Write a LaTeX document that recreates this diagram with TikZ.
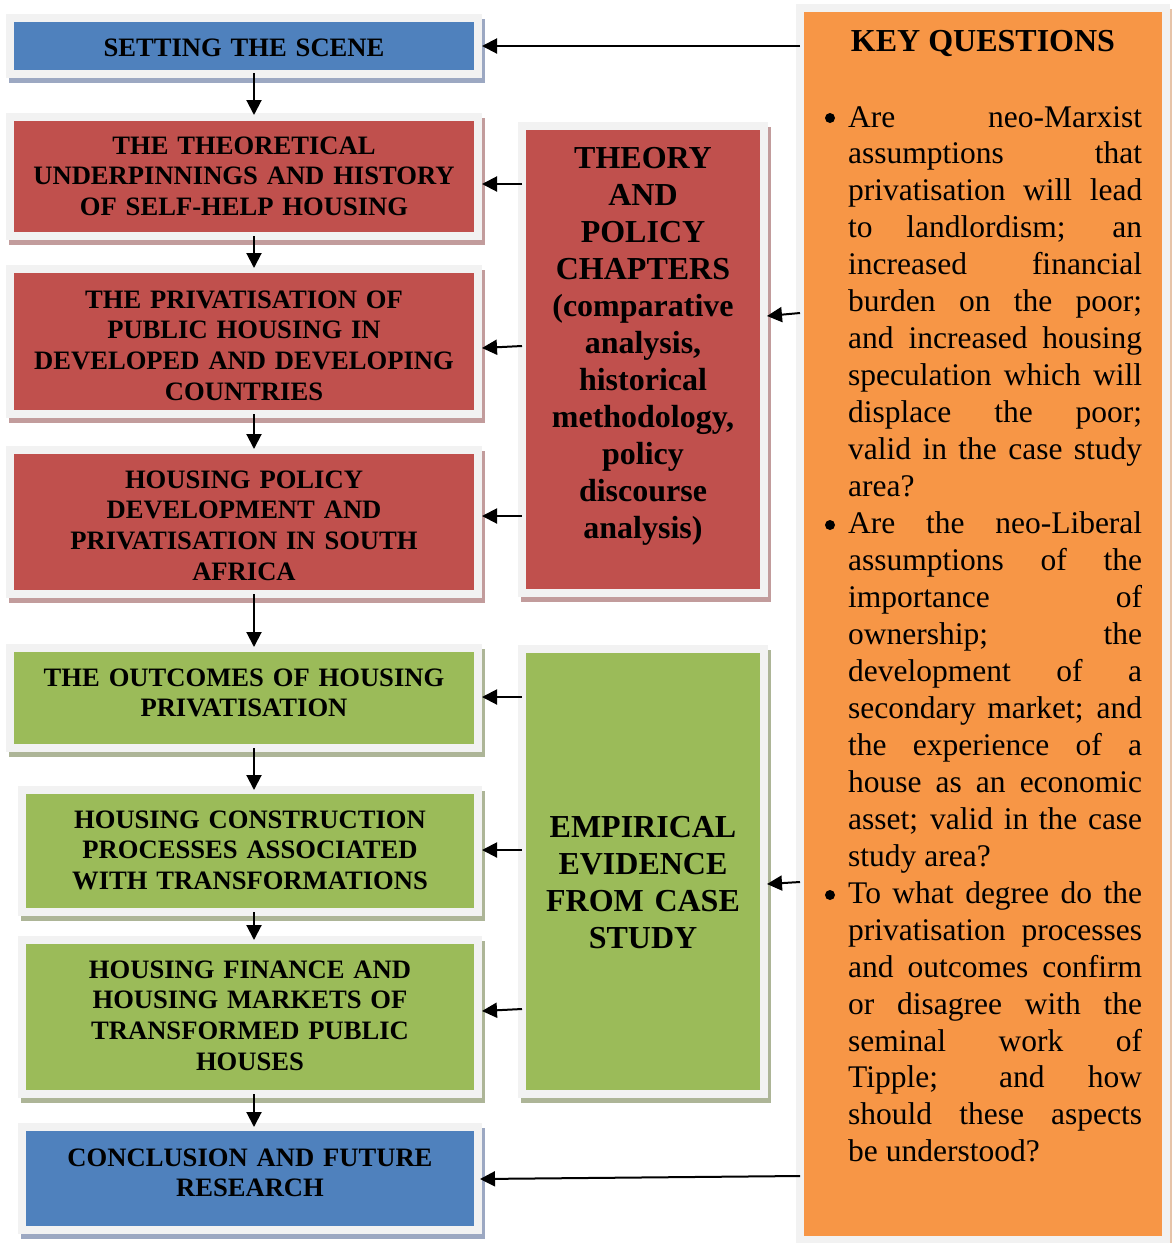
\documentclass[tikz,border=0pt]{standalone}
\usepackage{fontspec}
\setmainfont{Liberation Serif}
\usetikzlibrary{arrows.meta,calc,backgrounds}
\definecolor{cBlue}{HTML}{4F81BD}
\definecolor{cRed}{HTML}{C0504D}
\definecolor{cGreen}{HTML}{9BBB59}
\definecolor{cOrange}{HTML}{F79646}
\definecolor{cFrame}{HTML}{F2F2F2}
\definecolor{shB}{HTML}{9CA8C2}
\definecolor{shR}{HTML}{C29C9C}
\definecolor{shG}{HTML}{ADB597}
\definecolor{shO}{HTML}{E6C3A8}
\newcommand\boxfont{\fontsize{26.6}{30.7}\selectfont\bfseries}
\newcommand\midfont{\fontsize{32}{37}\selectfont\bfseries}
\newcommand\kqhead{\fontsize{32}{37}\selectfont\bfseries}
\newcommand\kqbody{\fontsize{31.5}{36.96}\selectfont}
\tolerance=10000
\hbadness=10000
\hyphenpenalty=10000
\exhyphenpenalty=10000
\begin{document}
\begin{tikzpicture}[x=1pt,y=-1pt,
  frame/.style={draw=cFrame, line width=8pt, outer sep=4pt, inner sep=0pt},
  lbl/.style={font=\boxfont, text width=456pt, align=center, inner sep=0pt, anchor=base},
  mid/.style={font=\midfont, text width=234pt, align=center, inner sep=0pt, anchor=base},
  bul/.style={circle, fill=black, inner sep=0pt, minimum size=10pt},
  arr/.style={line width=2pt, -{Triangle[length=15pt,width=15pt]}}]
\useasboundingbox (0,0) rectangle (1171,1243);

% boxes (frame = outer rectangle inset by 4)
\node[frame, fill=cBlue,  minimum width=468pt, minimum height=56pt]  (f1) at (244,46) {};
\node[frame, fill=cRed,   minimum width=468pt, minimum height=119pt] (f2) at (244,176.5) {};
\node[frame, fill=cRed,   minimum width=468pt, minimum height=145pt] (f3) at (244,341.5) {};
\node[frame, fill=cRed,   minimum width=468pt, minimum height=144pt] (f4) at (244,522) {};
\node[frame, fill=cGreen, minimum width=468pt, minimum height=100pt] (f5) at (244,698) {};
\node[frame, fill=cGreen, minimum width=456pt, minimum height=122pt] (f6) at (250,851) {};
\node[frame, fill=cGreen, minimum width=456pt, minimum height=154pt] (f7) at (250,1017) {};
\node[frame, fill=cBlue,  minimum width=456pt, minimum height=103pt] (f8) at (250,1178.5) {};
\node[frame, fill=cRed,   minimum width=242pt, minimum height=467pt] (ft) at (643,359.5) {};
\node[frame, fill=cGreen, minimum width=242pt, minimum height=445pt] (fe) at (643,871.5) {};
\node[frame, fill=cOrange,minimum width=366pt, minimum height=1232pt] (fk) at (983,624) {};

\begin{scope}[on background layer]
  \fill[white] (0,0) rectangle (1171,1243);
  \foreach \n/\c in {f1/shB,f2/shR,f3/shR,f4/shR,f5/shG,f6/shG,f7/shG,f8/shB,ft/shR,fe/shG,fk/shO}
    \fill[\c] ($(\n.south west)+(3,5)$) rectangle ($(\n.north east)+(3,5)$);
\end{scope}

% texts
\node[lbl] (t1) at (244,56) {SETTING THE SCENE};
\node[lbl] (t2) at (244,154) {THE THEORETICAL\\UNDERPINNINGS AND HISTORY\\OF SELF-HELP HOUSING};
\node[lbl] (t3) at (244,308) {THE PRIVATISATION OF\\PUBLIC HOUSING IN\\DEVELOPED AND DEVELOPING\\COUNTRIES};
\node[lbl] (t4) at (244,488) {HOUSING POLICY\\DEVELOPMENT AND\\PRIVATISATION IN SOUTH\\AFRICA};
\node[lbl] (t5) at (244,686) {THE OUTCOMES OF HOUSING\\PRIVATISATION};
\node[lbl] (t6) at (250,828) {HOUSING CONSTRUCTION\\PROCESSES ASSOCIATED\\WITH TRANSFORMATIONS};
\node[lbl] (t7) at (250,978) {HOUSING FINANCE AND\\HOUSING MARKETS OF\\TRANSFORMED PUBLIC\\HOUSES};
\node[lbl] (t8) at (250,1166) {CONCLUSION AND FUTURE\\RESEARCH};
\node[mid] (tt) at (643,168) {THEORY\\AND\\POLICY\\CHAPTERS\\(comparative\\analysis,\\historical\\methodology,\\policy\\discourse\\analysis)};
\node[mid] (te) at (643,837) {EMPIRICAL\\EVIDENCE\\FROM CASE\\STUDY};
\node[anchor=base, font=\kqhead, inner sep=0pt] (kh) at (983,51) {KEY QUESTIONS};
\node[anchor=base west, font=\kqbody, text width=294pt, align=justify, inner sep=0pt] (kb) at (848,127) {%
Are neo-Marxist\linebreak assumptions that\linebreak privatisation will lead\linebreak to landlordism; an\linebreak increased financial\linebreak burden on the poor;\linebreak and increased housing\linebreak speculation which will\linebreak displace the poor;\linebreak valid in the case study\linebreak area?\par
Are the neo-Liberal\linebreak assumptions of the\linebreak importance of\linebreak ownership; the\linebreak development of a\linebreak secondary market; and\linebreak the experience of a\linebreak house as an economic\linebreak asset; valid in the case\linebreak study area?\par
To what degree do the\linebreak privatisation processes\linebreak and outcomes confirm\linebreak or disagree with the\linebreak seminal work of\linebreak Tipple; and how\linebreak should these aspects\linebreak be understood?};
\node[bul] (bu1) at (830,118) {};
\node[bul] (bu2) at (830,525) {};
\node[bul] (bu3) at (830,895) {};

% vertical arrows
\coordinate (ax) at (254,0);
\draw[arr] ($(f1.south -| ax)+(0,-5)$) -- ($(f2.north -| ax)+(0,2)$);
\draw[arr] ($(f2.south -| ax)+(0,-4)$) -- ($(f3.north -| ax)+(0,3)$);
\draw[arr] ($(f3.south -| ax)+(0,-4)$) -- ($(f4.north -| ax)+(0,3)$);
\draw[arr] ($(f4.south -| ax)+(0,-4)$) -- ($(f5.north -| ax)+(0,3)$);
\draw[arr] ($(f5.south -| ax)+(0,-4)$) -- ($(f6.north -| ax)+(0,4)$);
\draw[arr] ($(f6.south -| ax)+(0,-4)$) -- ($(f7.north -| ax)+(0,4)$);
\draw[arr] ($(f7.south -| ax)+(0,-4)$) -- ($(f8.north -| ax)+(0,4)$);

% horizontal arrows
\draw[arr] ($(fk.west |- f1.east)+(4,0)$) -- (f1.east);
\draw[arr] ($(fk.west |- 0,1176)+(4,0)$) -- ($(f8.east |- 0,1179)+(-2,0)$);
\draw[arr] ($(fk.west |- 0,313)+(4,0)$) -- ($(ft.east |- 0,316)+(-1,0)$);
\draw[arr] ($(fk.west |- 0,882)+(4,0)$) -- ($(fe.east |- 0,884)+(-1,0)$);
\draw[arr] ($(ft.west |- 0,184)+(4,0)$) -- (f2.east |- 0,184);
\draw[arr] ($(ft.west |- 0,346)+(4,0)$) -- (f3.east |- 0,348);
\draw[arr] ($(ft.west |- 0,516)+(4,0)$) -- (f4.east |- 0,516);
\draw[arr] ($(fe.west |- 0,697)+(4,0)$) -- (f5.east |- 0,697);
\draw[arr] ($(fe.west |- 0,850)+(4,0)$) -- (f6.east |- 0,850);
\draw[arr] ($(fe.west |- 0,1009)+(4,0)$) -- (f7.east |- 0,1011);
\end{tikzpicture}
\end{document}
